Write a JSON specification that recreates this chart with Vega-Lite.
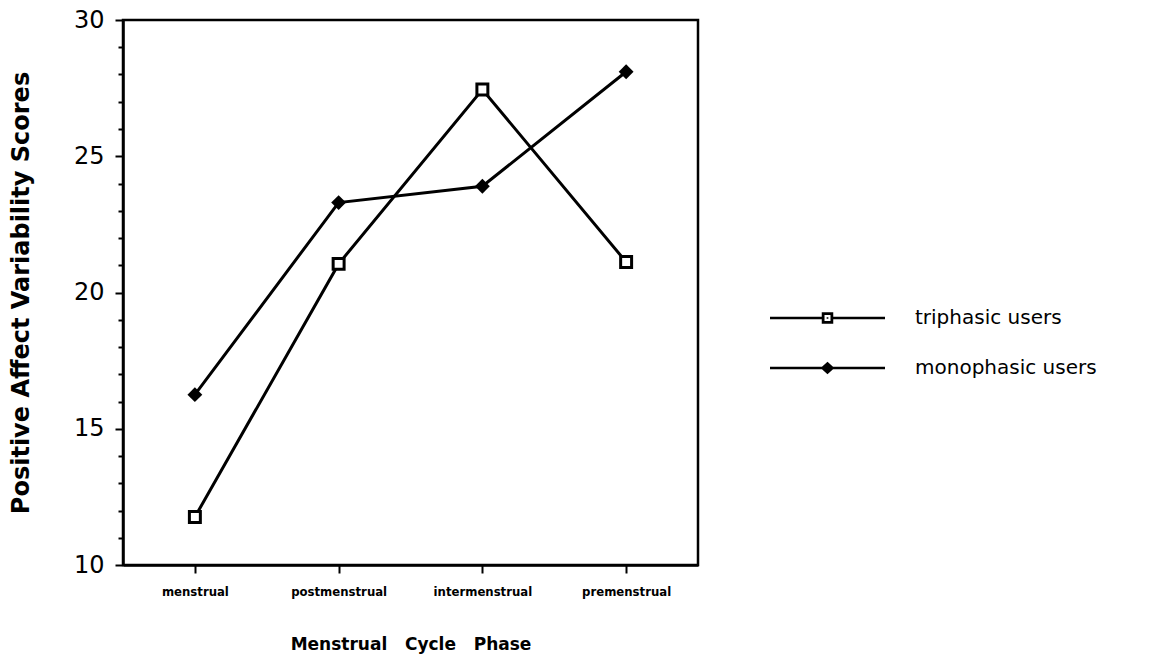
{
  "$schema": "https://vega.github.io/schema/vega-lite/v6.json",
  "width": 575,
  "height": 545,
  "autosize": {"type": "none"},
  "padding": {"left": 123, "top": 20, "right": 458, "bottom": 107},
  "background": "white",
  "config": {
    "view": {"stroke": "black", "strokeWidth": 2.5},
    "axis": {"grid": false, "domainColor": "black", "domainWidth": 2.5, "tickColor": "black", "tickWidth": 2, "labelColor": "black", "titleColor": "black"}
  },
  "data": {
    "values": [
      {"phase": "menstrual", "group": "triphasic users", "score": 11.76},
      {"phase": "postmenstrual", "group": "triphasic users", "score": 21.05},
      {"phase": "intermenstrual", "group": "triphasic users", "score": 27.45},
      {"phase": "premenstrual", "group": "triphasic users", "score": 21.12},
      {"phase": "menstrual", "group": "monophasic users", "score": 16.25},
      {"phase": "postmenstrual", "group": "monophasic users", "score": 23.3},
      {"phase": "intermenstrual", "group": "monophasic users", "score": 23.9},
      {"phase": "premenstrual", "group": "monophasic users", "score": 28.1}
    ]
  },
  "encoding": {
    "x": {
      "field": "phase", "type": "ordinal",
      "sort": ["menstrual", "postmenstrual", "intermenstrual", "premenstrual"],
      "scale": {"type": "point", "padding": 0.5},
      "axis": {
        "title": "Menstrual\u00a0\u00a0 Cycle\u00a0\u00a0 Phase",
        "titleFont": "DejaVu Sans", "titleFontSize": 17, "titleFontWeight": "bold", "titlePadding": 38,
        "labelFont": "DejaVu Sans Condensed", "labelFontSize": 13, "labelFontWeight": "bold",
        "labelAngle": 0, "tickSize": 8, "labelPadding": 12
      }
    },
    "y": {
      "field": "score", "type": "quantitative",
      "scale": {"domain": [10, 30], "nice": false, "zero": false},
      "axis": {
        "title": "Positive Affect Variability Scores",
        "titleFont": "DejaVu Sans", "titleFontSize": 24, "titleFontWeight": "bold", "titlePadding": 40,
        "values": [10,11,12,13,14,15,16,17,18,19,20,21,22,23,24,25,26,27,28,29,30],
        "labelExpr": "datum.value % 5 === 0 ? datum.label : ''",
        "labelFont": "DejaVu Sans", "labelFontSize": 24, "labelPadding": 11,
        "tickSize": {"condition": {"test": "datum.value % 5 === 0", "value": 8}, "value": 5}
      }
    }
  },
  "layer": [
    {
      "mark": {"type": "line", "color": "black", "strokeWidth": 3},
      "encoding": {"detail": {"field": "group"}}
    },
    {
      "transform": [{"filter": "datum.group === 'triphasic users'"}],
      "mark": {"type": "point", "shape": "square", "filled": true, "fill": "white", "stroke": "black", "strokeWidth": 3, "size": 120, "opacity": 1}
    },
    {
      "transform": [{"filter": "datum.group === 'monophasic users'"}],
      "mark": {"type": "point", "shape": "diamond", "filled": true, "color": "black", "size": 220, "opacity": 1}
    },
    {
      "mark": {"type": "point", "opacity": 0, "filled": true, "fill": "black"},
      "encoding": {
        "shape": {
          "field": "group", "type": "nominal",
          "scale": {
            "domain": ["triphasic users", "monophasic users"],
            "range": [
              "M-1,-0.022H-0.1V0.022H-1ZM0.1,-0.022H1V0.022H0.1ZM-0.1,-0.1H0.1V0.1H-0.1ZM-0.052,-0.052V0.052H0.052V-0.052ZM-0.015,-0.015H0.015V0.015H-0.015Z",
              "M-1,-0.022H1V0.022H-1ZM-0.12,0L0,-0.11L0.12,0L0,0.11Z"
            ]
          },
          "legend": {
            "title": null, "orient": "none", "legendX": 647, "legendY": 273,
            "symbolSize": 13225, "symbolOpacity": 1, "symbolFillColor": "black", "symbolStrokeWidth": 0,
            "labelFont": "DejaVu Sans", "labelFontSize": 20, "labelColor": "black", "labelOffset": 30, "rowPadding": 0,
            "clipHeight": 50, "labelLimit": 400
          }
        }
      }
    }
  ]
}
